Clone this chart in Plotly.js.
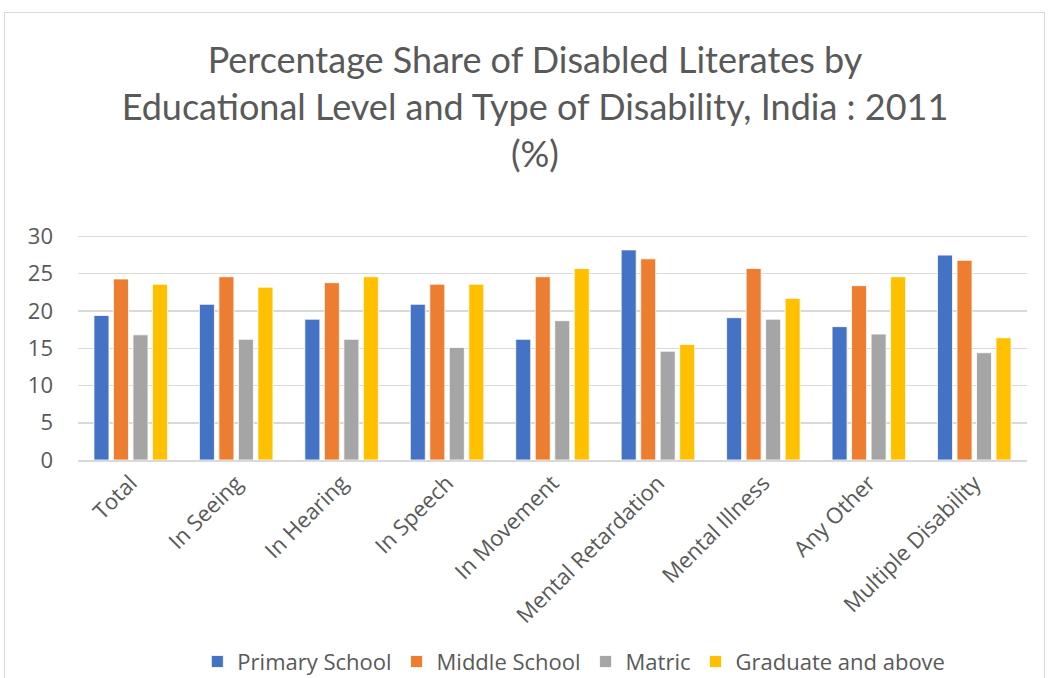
<!DOCTYPE html>
<html>
<head>
<meta charset="utf-8">
<script src="https://cdn.plot.ly/plotly-3.0.1.min.js"></script>
<style>
html,body{margin:0;padding:0;background:#fff;}
#frame{position:absolute;left:4px;top:12px;width:1041px;height:680px;border:1.5px solid #d9d9d9;box-sizing:border-box;}
#chart{position:absolute;left:0;top:0;width:1051px;height:678px;}
</style>
</head>
<body>
<div id="frame"></div>
<div id="chart"></div>
<script>
const categories = ["Total","In Seeing","In Hearing","In Speech","In Movement","Mental Retardation","Mental Illness","Any Other","Multiple Disability"];
const primarySchool = [19.4, 20.9, 18.9, 20.9, 16.2, 28.2, 19.1, 17.9, 27.5];
const middleSchool  = [24.3, 24.6, 23.8, 23.6, 24.6, 27.0, 25.7, 23.4, 26.8];
const matric        = [16.8, 16.2, 16.2, 15.1, 18.7, 14.6, 18.9, 16.9, 14.4];
const graduate      = [23.6, 23.2, 24.6, 23.6, 25.7, 15.5, 21.7, 24.6, 16.4];
const seriesNames = ["Primary School","Middle School","Matric","Graduate and above"];
const yTicks = [0,5,10,15,20,25,30];

const colors = ["#4472C4","#ED7D31","#A5A5A5","#FFC000"];
const values = [primarySchool, middleSchool, matric, graduate];
const traces = values.map((v,i)=>({
  type:"bar", name:seriesNames[i], x:categories, y:v,
  marker:{color:colors[i], line:{color:"rgba(255,255,255,0.8)", width:1}},
  hoverinfo:"x+y+name"
}));

const layout = {
  width:1051, height:678,
  paper_bgcolor:"rgba(0,0,0,0)", plot_bgcolor:"rgba(0,0,0,0)",
  margin:{l:78, r:24, t:235, b:218},
  font:{family:"'Open Sans', sans-serif", color:"#595959"},
  title:{text:"Percentage Share of Disabled Literates by<br>Educational Level and Type of Disability, India : 2011<br>(%)",
    font:{size:36, color:"#595959", family:"Lato, sans-serif"},
    x:0.509, xanchor:"center", xref:"container", y:0.892, yanchor:"top"},
  barmode:"group", bargap:0.26, bargroupgap:0.23,
  xaxis:{tickangle:-45, tickfont:{size:22, color:"#595959"}, showline:true, linecolor:"#d9d9d9", linewidth:1.5, ticks:"", automargin:false},
  yaxis:{range:[0,30.2], tickvals:yTicks, ticktext:yTicks.map(String), tickfont:{size:22, color:"#595959"},
    showgrid:true, gridcolor:"#d9d9d9", gridwidth:1.5, zeroline:false, showline:false, ticks:"", ticklabelstandoff:24, automargin:false},
  legend:{orientation:"h", x:0.546, xanchor:"center", xref:"container", y:0.024, yanchor:"middle", yref:"container",
    font:{size:22, color:"#595959"}, itemwidth:10, traceorder:"normal"},
  showlegend:true
};
Plotly.newPlot("chart", traces, layout, {displayModeBar:false, staticPlot:true});
</script>
</body>
</html>
